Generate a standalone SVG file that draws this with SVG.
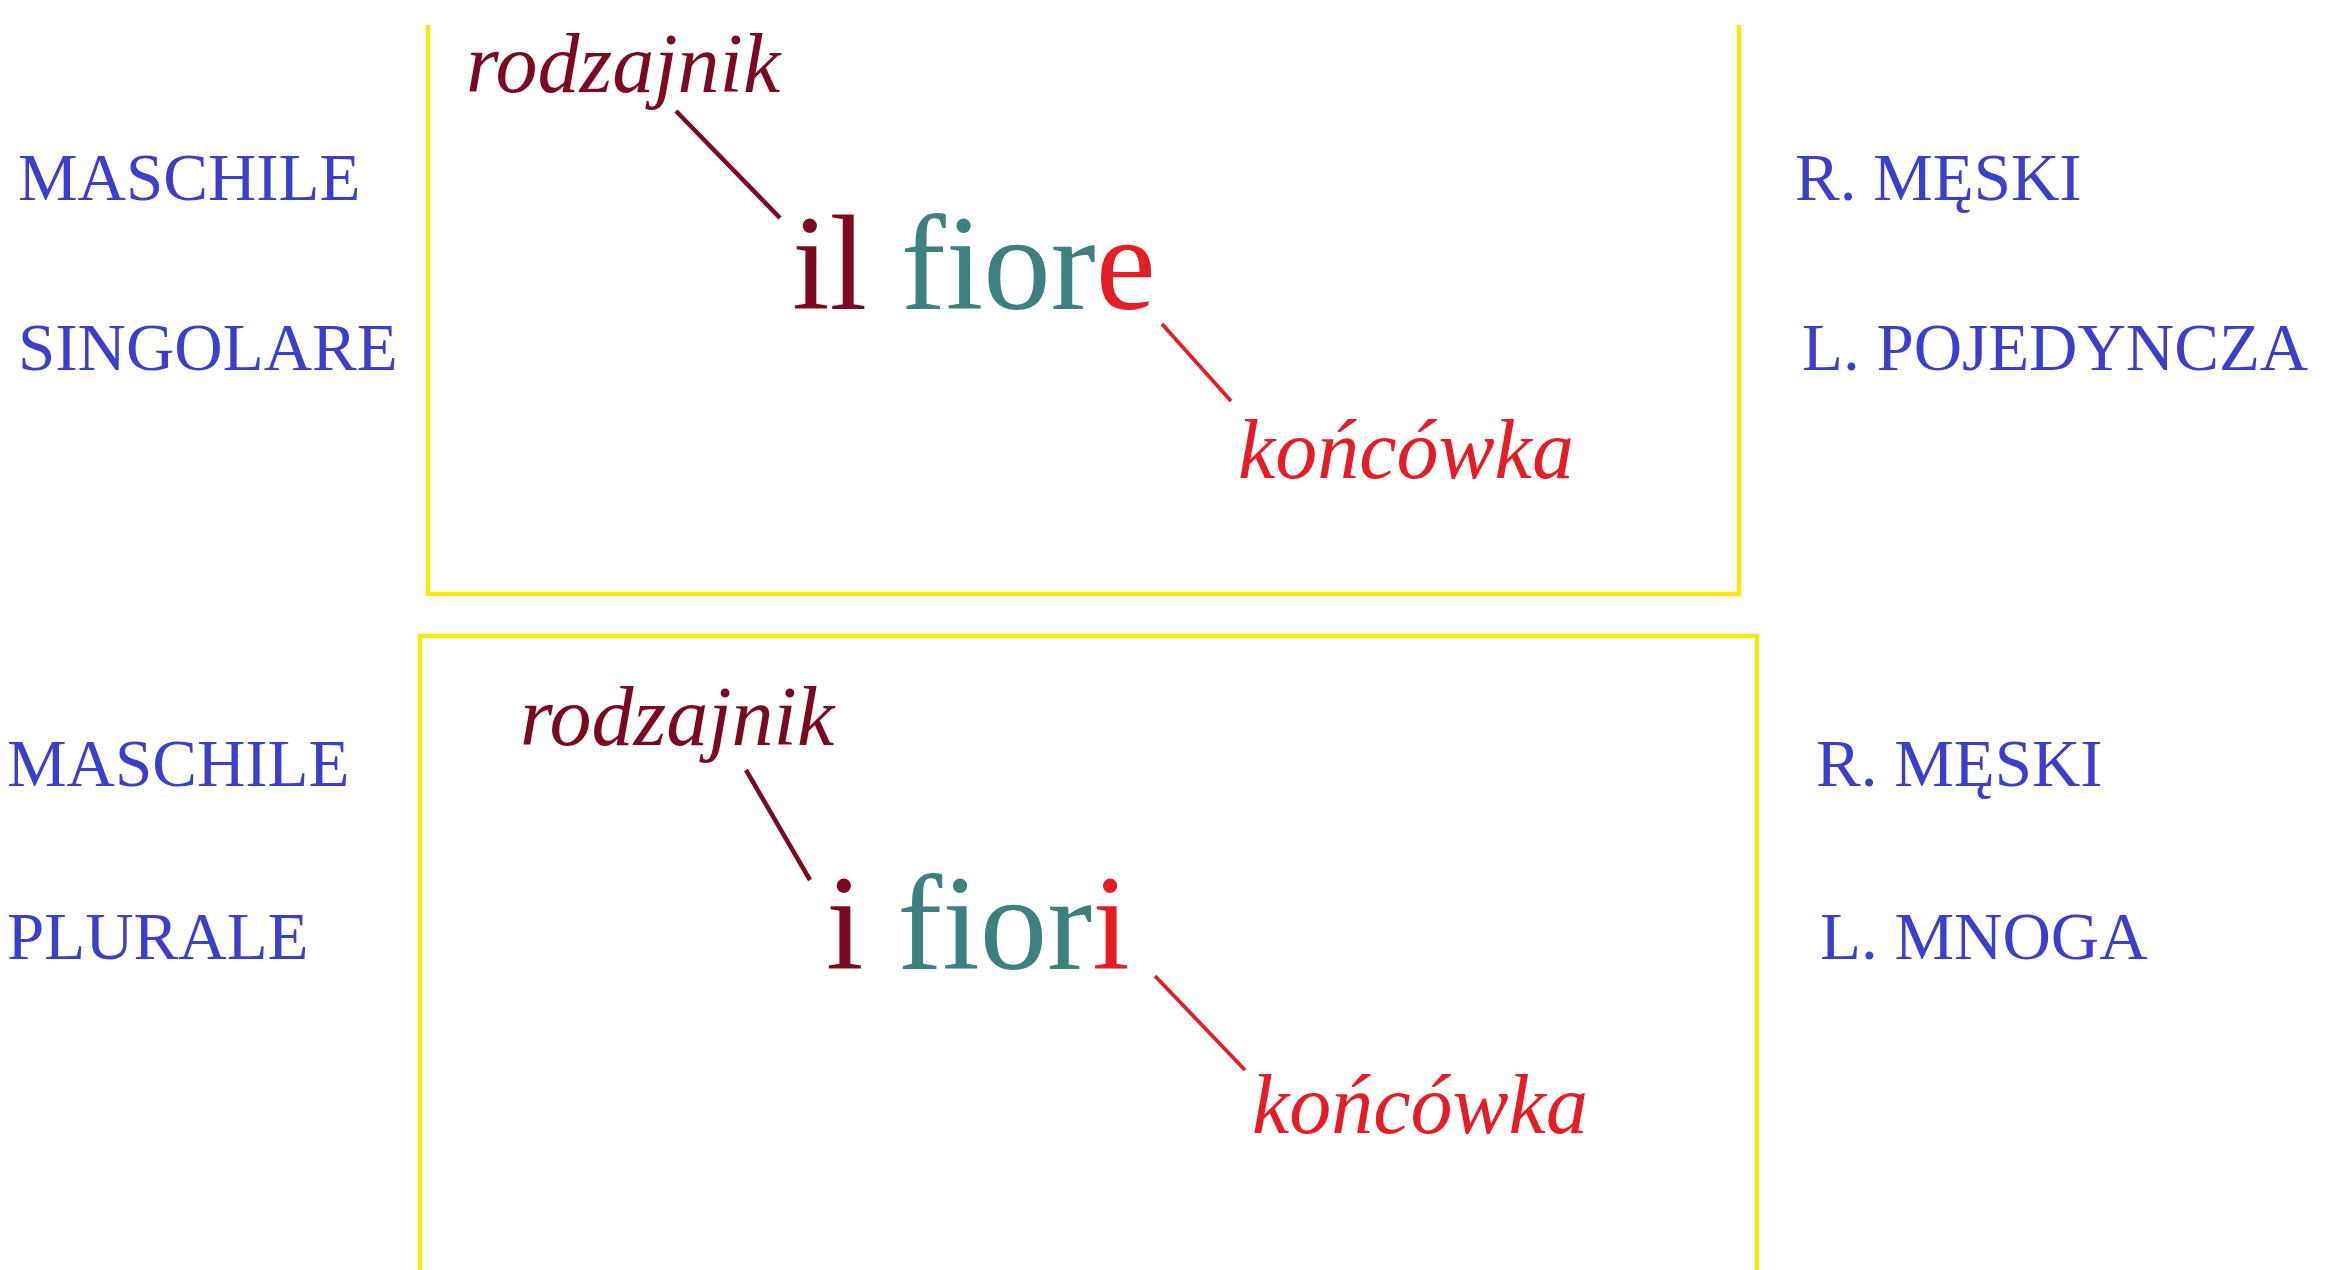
<svg xmlns="http://www.w3.org/2000/svg" width="2330" height="1270" viewBox="0 0 2330 1270">
<style>
.lbl{font-family:"Liberation Serif","Times New Roman",serif;font-size:67px;fill:#3A3FCC}
.word{font-family:"Liberation Serif","Times New Roman",serif;font-size:135px}
.note{font-family:"Liberation Serif","Times New Roman",serif;font-style:italic;font-size:84px}
.art{fill:#7B0A1E}
.stem{fill:#3C8080}
.end{fill:#E31E26}
.frame{fill:none;stroke:#FFE812;stroke-width:4.5}
.c-art{stroke:#7B0A1E;stroke-width:4.5;fill:none}
.c-end{stroke:#E31E26;stroke-width:3.8;fill:none}
</style>
<rect width="2330" height="1270" fill="#FFFFFF"/>
<g id="frame-singular">
<polyline class="frame" points="428,25 428,594 1739,594 1739,25"/>
</g>
<g id="frame-plural">
<polyline class="frame" points="420,1270 420,636 1757,636 1757,1270"/>
</g>
<g id="labels-left">
<text class="lbl" x="18" y="200">MASCHILE</text>
<text class="lbl" x="18" y="370">SINGOLARE</text>
<text class="lbl" x="7" y="786">MASCHILE</text>
<text class="lbl" x="7" y="959">PLURALE</text>
</g>
<g id="labels-right">
<text class="lbl" x="1795" y="200">R. MĘSKI</text>
<text class="lbl" x="1802" y="370">L. POJEDYNCZA</text>
<text class="lbl" x="1816" y="786">R. MĘSKI</text>
<text class="lbl" x="1820" y="959">L. MNOGA</text>
</g>
<g id="node-il-fiore">
<text class="word" x="792" y="309"><tspan class="art">il </tspan><tspan class="stem">fior</tspan><tspan class="end">e</tspan></text>
</g>
<g id="node-rodzajnik-1">
<text class="note art" x="466" y="92">rodzajnik</text>
</g>
<g id="node-koncowka-1">
<text class="note end" x="1238" y="478">końcówka</text>
</g>
<g id="node-i-fiori">
<text class="word" x="826" y="969"><tspan class="art">i </tspan><tspan class="stem">fior</tspan><tspan class="end">i</tspan></text>
</g>
<g id="node-rodzajnik-2">
<text class="note art" x="520" y="745">rodzajnik</text>
</g>
<g id="node-koncowka-2">
<text class="note end" x="1252" y="1133">końcówka</text>
</g>
<g id="connectors">
<line class="c-art" x1="676" y1="111" x2="780" y2="218"/>
<line class="c-end" x1="1162" y1="324" x2="1231" y2="401"/>
<line class="c-art" x1="746" y1="770" x2="810" y2="880"/>
<line class="c-end" x1="1155" y1="976" x2="1245" y2="1070"/>
</g>
</svg>
